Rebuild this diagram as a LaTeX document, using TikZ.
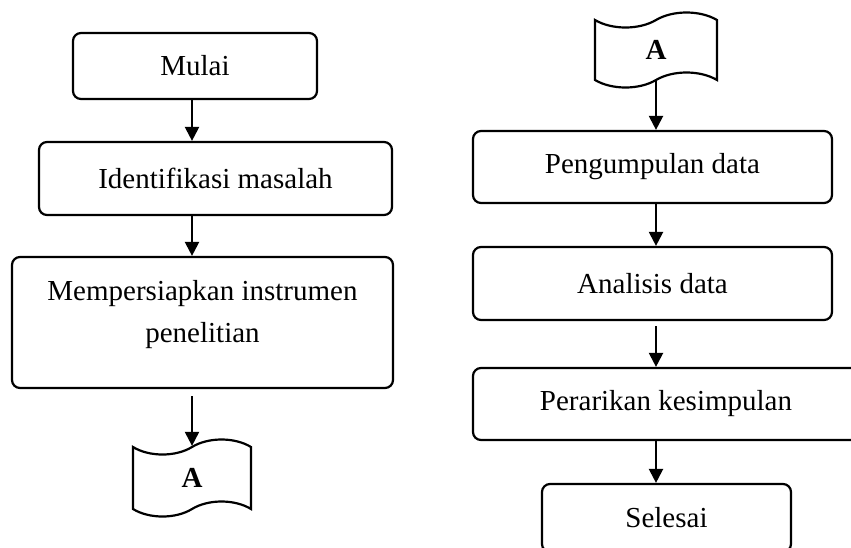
\documentclass[tikz,border=0pt]{standalone}
\usepackage{fontspec}
\setmainfont{Liberation Serif}
\usetikzlibrary{arrows.meta,shapes.symbols}

\begin{document}
\begin{tikzpicture}[x=1pt,y=1pt,
  font=\fontsize{29}{42}\selectfont,
  stepbox/.style={draw,line width=2.2pt,rounded corners=8pt,align=center,inner sep=0pt},
  offpage/.style={draw,line width=2.2pt,shape=tape,tape bend height=15pt,inner sep=0pt,
                  font=\bfseries\fontsize{29}{34}\selectfont},
  flow/.style={-{Triangle[length=14pt,width=14pt]},line width=2.2pt}
]
% canvas of 851 x 547 units; boxes on the right run past the edge
\clip (0,0) rectangle (851,-547);

% left column
\node[stepbox,minimum width=244pt,minimum height=66pt] (mulai) at (195,-66) {Mulai};
\node[stepbox,minimum width=353pt,minimum height=73pt] (ident) at (215.5,-178.5) {Identifikasi masalah};
\node[stepbox,minimum width=381pt,minimum height=131pt,text depth=23pt] (siap) at (202.5,-322.5)
  {Mempersiapkan instrumen\\penelitian};
\node[offpage,minimum width=118pt,minimum height=77pt] (conA) at (192,-478) {A};

\draw[flow] (mulai.south -| conA.north) -- (ident.north -| conA.north);
\draw[flow] (ident.south -| conA.north) -- (siap.north -| conA.north);
\draw[flow,shorten <=7pt] (siap.south -| conA.north) -- (conA.north);

% right column
\node[offpage,minimum width=122pt,minimum height=75pt] (conB) at (656,-50) {A};
\node[stepbox,minimum width=359pt,minimum height=72pt] (kumpul) at (652.5,-167) {Pengumpulan data};
\node[stepbox,minimum width=359pt,minimum height=73pt] (analisis) at (652.5,-283.5) {Analisis data};
\node[stepbox,minimum width=386pt,minimum height=72pt] (tarik) at (666,-404) {Perarikan kesimpulan};
\node[stepbox,minimum width=249pt,minimum height=68pt] (selesai) at (666.5,-518) {Selesai};

\draw[flow] (conB.south) -- (kumpul.north -| conB.south);
\draw[flow] (kumpul.south -| conB.south) -- (analisis.north -| conB.south);
\draw[flow,shorten <=5pt] (analisis.south -| conB.south) -- (tarik.north -| conB.south);
\draw[flow] (tarik.south -| conB.south) -- (selesai.north -| conB.south);
\end{tikzpicture}
\end{document}
